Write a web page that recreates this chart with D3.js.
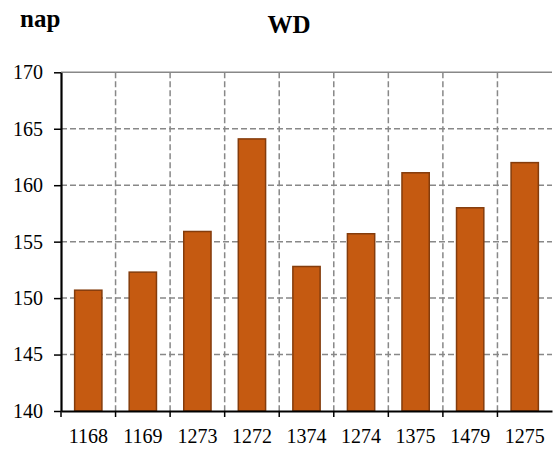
<!DOCTYPE html>
<html>
<head>
<meta charset="utf-8">
<script src="https://cdn.jsdelivr.net/npm/d3@7"></script>
<style>
  body { margin: 0; background: #fff; }
</style>
</head>
<body>
<div id="chart"></div>
<script>
const categories = ['1168', '1169', '1273', '1272', '1374', '1274', '1375', '1479', '1275']
const values = [150.7, 152.3, 155.9, 164.1, 152.8, 155.7, 161.1, 158.0, 162.0]
const yTicks = [140, 145, 150, 155, 160, 165, 170]

const serif = "'Liberation Serif'"

const margin = { top: 72.3, right: 1, bottom: 41, left: 61 }
const width = 553 - margin.left - margin.right
const height = 452 - margin.top - margin.bottom

const root = d3.select('#chart')
  .append('svg')
  .attr('width', 553)
  .attr('height', 452)

const svg = root.append('g')
  .attr('transform', 'translate(' + margin.left + ',' + margin.top + ')')

const x = d3.scaleBand()
  .domain(categories)
  .range([0, width])
  .paddingInner(0.5)
  .paddingOuter(0.25)

const y = d3.scaleLinear()
  .domain([140, 170])
  .range([height, 0])

// grid
svg.selectAll('.hgrid')
  .data(yTicks.filter(d => d !== 140))
  .enter()
  .append('line')
  .attr('class', 'hgrid')
  .attr('x1', 0)
  .attr('x2', width)
  .attr('y1', d => y(d))
  .attr('y2', d => y(d))
  .attr('stroke', '#888')
  .attr('stroke-width', 1.5)
  .attr('stroke-dasharray', d => d === 170 ? null : '6,3')

const bounds = categories.slice(1).map(c => x(c) - x.step() * x.paddingInner() / 2)

svg.selectAll('.vgrid')
  .data(bounds)
  .enter()
  .append('line')
  .attr('class', 'vgrid')
  .attr('x1', d => d)
  .attr('x2', d => d)
  .attr('y1', 0)
  .attr('y2', height)
  .attr('stroke', '#888')
  .attr('stroke-width', 1.5)
  .attr('stroke-dasharray', '6,3')

// bars
svg.selectAll('.bar')
  .data(values)
  .enter()
  .append('rect')
  .attr('class', 'bar')
  .attr('x', (d, i) => x(categories[i]))
  .attr('width', x.bandwidth())
  .attr('y', d => y(d))
  .attr('height', d => height - y(d))
  .attr('fill', '#C55A11')
  .attr('stroke', '#843C0C')
  .attr('stroke-width', 1.5)

// y axis
const yAxis = svg.append('g')
  .call(d3.axisLeft(y).tickValues(yTicks).tickSize(7).tickPadding(11).tickSizeOuter(0))
yAxis.select('.domain').attr('stroke', '#000').attr('stroke-width', 2.2)
yAxis.selectAll('.tick line').attr('stroke', '#000').attr('stroke-width', 1.5)
yAxis.selectAll('text')
  .attr('fill', '#000')
  .style('font-family', serif)
  .style('font-size', '20px')

// x axis
const xAxis = svg.append('g')
  .attr('transform', 'translate(0,' + height + ')')
  .call(d3.axisBottom(x).tickSize(0).tickSizeOuter(0))
xAxis.select('.domain').attr('stroke', '#000').attr('stroke-width', 2.2)
xAxis.selectAll('text')
  .attr('y', 32)
  .attr('dy', 0)
  .attr('fill', '#000')
  .style('font-family', serif)
  .style('font-size', '20px')

xAxis.selectAll('.btick')
  .data([0].concat(bounds))
  .enter()
  .append('line')
  .attr('class', 'btick')
  .attr('x1', d => d)
  .attr('x2', d => d)
  .attr('y1', 0)
  .attr('y2', 6)
  .attr('stroke', '#000')
  .attr('stroke-width', 1.5)

// titles
root.append('text')
  .attr('x', 289)
  .attr('y', 32.7)
  .attr('text-anchor', 'middle')
  .style('font-family', serif)
  .style('font-size', '25px')
  .style('font-weight', 'bold')
  .text('WD')

root.append('text')
  .attr('x', 20)
  .attr('y', 26.7)
  .style('font-family', serif)
  .style('font-size', '25px')
  .style('font-weight', 'bold')
  .text('nap')
</script>
</body>
</html>
